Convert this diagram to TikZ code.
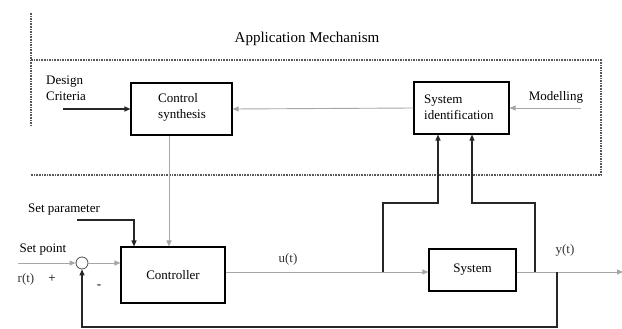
\documentclass[tikz,border=0pt]{standalone}
\usepackage{fontspec}
\setmainfont{Liberation Serif}
\usetikzlibrary{arrows.meta}
\begin{document}
\begin{tikzpicture}[x=1pt,y=-1pt,
 blk/.style={draw=black, line width=1.1pt, inner sep=0pt, font=\fontsize{13}{15}\selectfont},
 lbl/.style={font=\fontsize{13}{16}\selectfont, inner sep=0pt},
 ar/.style={-{Triangle[length=6pt,width=5pt]}},
 gl/.style={draw=gray!70, line width=0.9pt},
 bl/.style={draw=black!85, line width=1.1pt},
 dt/.style={draw=black!65, line width=1.2pt, dash pattern=on 1.6pt off 1pt}]
\useasboundingbox (0,0) rectangle (622,329);
% frame
\draw[dt] (31,13) -- (31,127);
\draw[dt] (31,60) -- (601,60) -- (601,175) -- (31,175);
\node[lbl, font=\fontsize{15}{17}\selectfont] (title) at (307,39) {Application Mechanism};
% blocks
\node[blk, minimum width=101pt, minimum height=52pt] (cs) at (181.5,109) {};
\node[lbl, align=left, anchor=west] (cst) at (158,107) {Control\\synthesis};
\node[blk, minimum width=95pt, minimum height=52pt] (si) at (461.5,108) {};
\node[lbl, align=left, anchor=west] (sit) at (424,107) {System\\identification};
\node[blk, minimum width=104pt, minimum height=56pt] (ctrl) at (173,275) {Controller};
\node[blk, minimum width=87pt, minimum height=42pt] (sys) at (472.5,270) {System};
\node[draw=black!70, fill=white, line width=0.8pt, circle, minimum size=12pt, inner sep=0pt] (sum) at (82,263) {};
% labels
\node[lbl, align=left, anchor=west] (dcl) at (46,88) {Design\\Criteria};
\node[lbl] (mol) at (556,97) {Modelling};
\node[lbl] (spl) at (64,210) {Set parameter};
\node[lbl] (sptl) at (43,250) {Set point};
\node[lbl, text=black!80] (rl) at (26,279) {r(t)};
\node[lbl] (pl) at (52,279) {+};
\node[lbl] (ml) at (99,287) {-};
\node[lbl, text=black!80] (ul) at (288,259) {u(t)};
\node[lbl, text=black!80] (yl) at (565,250) {y(t)};
% coordinates
\coordinate (dc) at (63,109);
\coordinate (mo) at (581,108);
\coordinate (sp) at (77,220);
\coordinate (spt) at (18,263);
\coordinate (b1) at (383,272);
\coordinate (b2) at (535,272);
\coordinate (t1) at (438,203);
\coordinate (t2) at (472,203);
\coordinate (fb) at (557,272);
\coordinate (fbl) at (82,327);
\coordinate (oe) at (623,272);
% connectors
\draw[bl, ar] (dc) -- (cs.west);
\draw[gl, ar] (si.west) -- (cs.east);
\draw[gl, ar] (mo) -- (si.east);
\draw[gl, ar] ([xshift=-12.5pt]cs.south) -- ([xshift=-4pt]ctrl.north);
\draw[bl, ar] (sp) -| ([xshift=-39pt]ctrl.north);
\draw[gl, ar] (spt) -- (sum.west);
\draw[gl, ar] (sum.east) -- (ctrl.west |- sum.east);
\draw[gl] (ctrl.east |- b1) -- (b1);
\draw[gl, ar] (b1) -- (sys.west |- b1);
\draw[bl, ar] (b1) |- (t1) -- (t1 |- si.south);
\draw[bl, ar] (b2) |- (t2) -- (t2 |- si.south);
\draw[gl, ar] (sys.east |- b1) -- (oe);
\draw[bl, ar] (fb) -- (fb |- fbl) -- (fbl) -- (sum.south);
\end{tikzpicture}
\end{document}
